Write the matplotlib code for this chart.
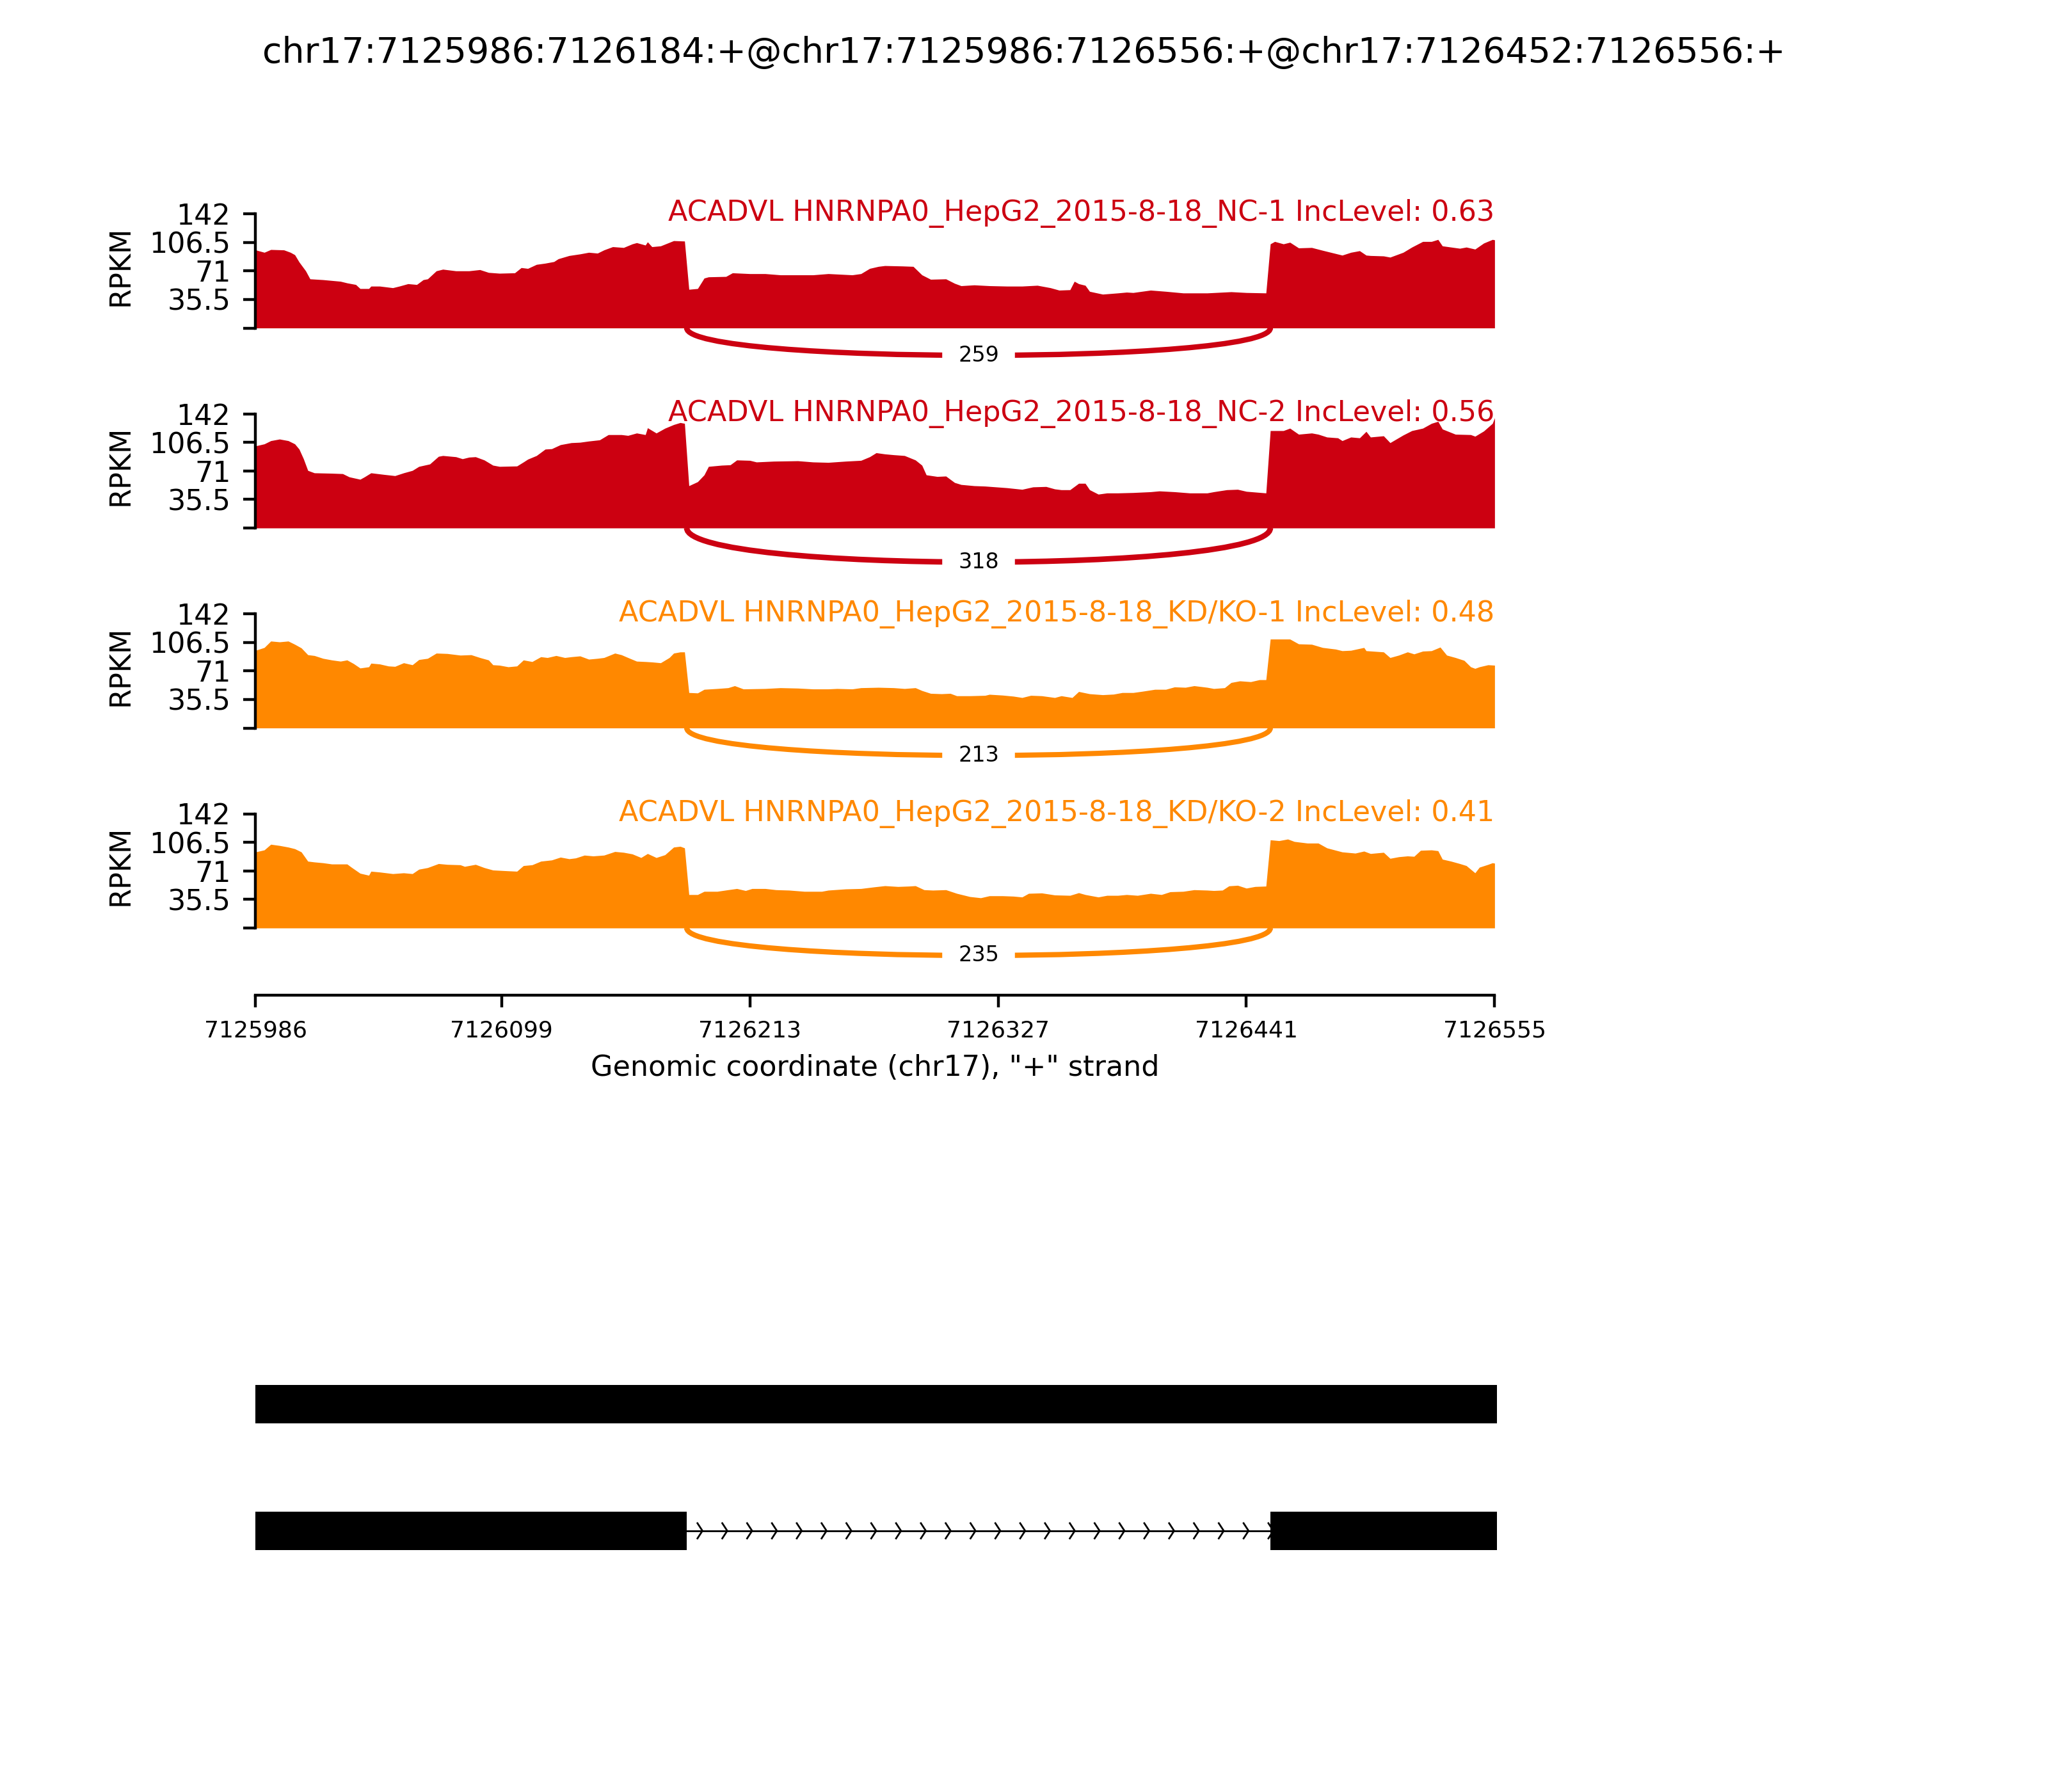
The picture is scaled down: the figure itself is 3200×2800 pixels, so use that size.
import numpy as np
import matplotlib
matplotlib.use("Agg")
import matplotlib.pyplot as plt
from matplotlib.path import Path
from matplotlib.patches import PathPatch

# event / region
event_title = "chr17:7125986:7126184:+@chr17:7125986:7126556:+@chr17:7126452:7126556:+"
gene = "ACADVL"
region_start = 7125986
region_end = 7126555
xlabel = 'Genomic coordinate (chr17), "+" strand'
xtick_values = [7125986, 7126099, 7126213, 7126327, 7126441, 7126555]
ymax = 142

samples = ["HNRNPA0_HepG2_2015-8-18_NC-1", "HNRNPA0_HepG2_2015-8-18_NC-2",
           "HNRNPA0_HepG2_2015-8-18_KD/KO-1", "HNRNPA0_HepG2_2015-8-18_KD/KO-2"]
inc_levels = [0.63, 0.56, 0.48, 0.41]
junction_counts = [259, 318, 213, 235]
junction = (7126184, 7126452)
colors = ["#CC0011", "#CC0011", "#FF8800", "#FF8800"]

# isoforms (exon start, exon end)
isoform_skip = [(7125986, 7126184), (7126452, 7126556)]
isoform_ri = [(7125986, 7126184), (7126184, 7126452), (7126452, 7126556)]

# coverage (RPKM), offsets in bp from region_start
nc1_off = [0, 4, 7, 13, 16, 18, 20, 23, 25, 31, 39, 42, 46, 48, 52, 53, 57, 63, 66, 70,
           74, 77, 79, 83, 86, 92, 98, 103, 107, 112, 119, 122, 125, 129, 133, 137, 139, 144, 149, 153,
           157, 160, 164, 169, 173, 175, 179, 180, 182, 186, 192, 197, 199, 203, 206, 208, 216, 219, 227, 234,
           241, 256, 263, 274, 278, 282, 286, 289, 297, 302, 306, 310, 317, 321, 324, 330, 337, 345, 352, 359,
           365, 369, 374, 376, 378, 381, 383, 389, 396, 400, 403, 411, 418, 426, 437, 448, 455, 464, 466, 468,
           472, 475, 479, 485, 490, 496, 499, 503, 507, 510, 512, 518, 521, 527, 531, 536, 540, 543, 545, 549,
           553, 556, 560, 564, 568, 569]
nc1_val = [97, 94, 97.5, 97, 94, 91, 82, 71, 61, 60, 58, 56, 54, 49, 49, 52, 52, 50, 52, 55,
           54, 60, 61, 71, 73, 71, 71, 72.5, 69, 68, 68.5, 75, 74, 79, 80.5, 82.5, 86, 90, 92, 94,
           93, 97, 101, 100, 104.5, 106, 103, 107, 101, 102, 108.5, 108, 48, 49, 62, 63.5, 64, 68.5, 67.5, 67.5,
           66, 66, 67.5, 66, 67.5, 74, 76.5, 77.5, 77, 76.5, 66, 60.5, 61, 55.5, 52.5, 53.5, 52.5, 52, 52, 53,
           50, 47, 47.5, 58, 55, 53, 45.5, 42, 43.5, 44.5, 44, 47, 45.5, 43.5, 43.5, 45, 44, 43.5, 104.5, 107.5,
           104.5, 106.5, 99.5, 100, 96.5, 92.5, 90.5, 94, 96, 90.5, 90, 89.5, 88, 94, 100.5, 107.5, 107.5, 110, 102, 100.5,
           99, 100.5, 98, 105.5, 110, 109.5]

nc2_off = [0, 4, 7, 11, 15, 18, 20, 22, 24, 27, 35, 40, 43, 48, 50, 53, 59, 64, 68, 72,
           75, 80, 84, 86, 92, 95, 98, 101, 105, 109, 112, 120, 123, 125, 129, 133, 136, 140, 145, 149,
           153, 158, 162, 168, 171, 175, 179, 180, 184, 188, 192, 195, 197, 199, 203, 206, 208, 214, 218, 221,
           227, 230, 238, 249, 256, 263, 271, 278, 282, 285, 289, 293, 298, 303, 306, 308, 313, 317, 321, 324,
           330, 335, 345, 352, 357, 363, 367, 370, 374, 378, 381, 383, 387, 391, 396, 403, 411, 415, 422, 429,
           437, 440, 446, 451, 455, 464, 466, 472, 475, 479, 485, 488, 492, 497, 499, 503, 507, 510, 512, 518,
           521, 527, 531, 536, 540, 543, 545, 551, 558, 560, 564, 568, 569]
nc2_val = [102, 104.5, 108.5, 110.5, 108.5, 104.5, 98, 86, 71.5, 68.5, 68, 67.5, 63.5, 60.5, 63.5, 68.5, 66.5, 65, 68.5, 71.5,
           76.5, 79.5, 89, 90, 88.5, 86, 88, 88.5, 84.5, 78, 76.5, 77, 82, 85.5, 90, 98, 98.5, 103.5, 106, 106.5,
           108, 109.5, 116, 116, 115, 118, 116, 124.5, 118, 124, 128.5, 131, 130, 52.5, 57.5, 66, 76.5, 78, 78.5, 84.5,
           84, 82, 83, 83.5, 82, 81.5, 83, 84, 88.5, 93.5, 92, 91, 90, 84.5, 78, 66, 64, 64.5, 56.5, 54,
           52.5, 52, 50, 48, 51, 51.5, 48.5, 47.5, 47.5, 55.5, 55.5, 47.5, 42, 43.5, 43.5, 44, 45, 46, 45, 43.5,
           43.5, 45, 47.5, 48, 45.5, 43.5, 121, 121, 124, 116.5, 118, 116.5, 113, 112, 108.5, 113, 112, 120, 113, 114.5,
           106, 115.5, 121, 124, 130, 132.5, 123, 116.5, 116, 114, 120.5, 130, 137]

kd1_off = [0, 4, 7, 11, 15, 18, 21, 24, 27, 31, 35, 39, 42, 45, 48, 52, 53, 57, 61, 64,
           68, 72, 75, 79, 83, 88, 94, 99, 103, 107, 109, 112, 116, 120, 123, 127, 131, 134, 138, 142,
           145, 149, 153, 157, 160, 165, 168, 171, 175, 179, 182, 186, 190, 192, 195, 197, 199, 203, 206, 212,
           217, 220, 224, 234, 241, 249, 256, 263, 267, 274, 278, 286, 293, 298, 303, 306, 310, 315, 319, 322,
           328, 335, 337, 343, 348, 352, 356, 361, 367, 370, 375, 378, 383, 389, 394, 398, 403, 407, 413, 418,
           422, 427, 431, 437, 440, 445, 448, 452, 457, 461, 464, 466, 470, 475, 479, 485, 490, 496, 499, 503,
           509, 510, 518, 521, 525, 529, 532, 536, 540, 544, 547, 551, 555, 558, 560, 562, 566, 569]
kd1_val = [96.5, 100, 108, 107, 108, 104, 99.5, 91, 90, 86.5, 84.5, 83, 84.5, 80, 74.5, 76, 80.5, 79.5, 77, 76.5,
           81, 78.5, 85, 86.5, 93, 92.5, 90.5, 91, 87.5, 84.5, 78.5, 78, 76, 77, 84.5, 82.5, 88.5, 87.5, 90, 87.5,
           88.5, 89.5, 85.5, 86.5, 87.5, 93, 91, 87.5, 83, 82.5, 82, 81, 87.5, 93, 94.5, 94.5, 44, 43.5, 48, 49,
           50, 52.5, 48.5, 49, 50, 49.5, 48.5, 48.5, 49, 48.5, 50, 50.5, 50, 49, 50, 46.5, 43, 42.5, 43, 40,
           40, 40.5, 41.8, 40.8, 39.5, 37.8, 40.5, 40, 37.8, 40, 37.8, 45.3, 42.5, 41.3, 42, 44, 44, 45.5, 48, 48,
           51, 50.5, 52.5, 50.5, 49, 50, 56.5, 58.5, 57.5, 60, 60, 110.5, 110.5, 110.5, 104.5, 104, 100, 98, 96, 96.5,
           100, 96, 94.5, 87.5, 90.5, 94.5, 92, 95.5, 96, 100.5, 90.5, 87.5, 84, 76, 74, 76, 78.5, 78]

kd2_off = [0, 4, 7, 11, 15, 18, 21, 24, 27, 31, 35, 42, 44, 48, 52, 53, 57, 63, 68, 72,
           75, 79, 84, 88, 94, 96, 101, 105, 109, 116, 120, 123, 127, 131, 136, 140, 144, 147, 151, 155,
           160, 165, 169, 173, 177, 180, 184, 188, 192, 195, 197, 199, 203, 206, 212, 217, 221, 225, 228, 234,
           239, 245, 252, 260, 263, 271, 278, 284, 289, 295, 300, 303, 307, 311, 317, 322, 328, 333, 337, 343,
           348, 352, 355, 361, 367, 374, 378, 381, 387, 391, 396, 400, 405, 411, 416, 420, 426, 431, 437, 440,
           444, 447, 451, 455, 459, 464, 466, 470, 474, 477, 483, 488, 492, 499, 505, 509, 512, 518, 521, 525,
           529, 532, 535, 540, 543, 545, 549, 553, 556, 560, 562, 566, 568, 569]
kd2_val = [94.5, 97, 104, 102.5, 100.5, 98.5, 94.5, 83, 82, 81, 79.5, 79.5, 75.5, 68, 65.5, 70.5, 69.5, 67.5, 68.5, 67.5,
           73, 75, 80, 79, 78.5, 76.5, 79, 75, 72, 71, 70.5, 77.5, 78.5, 83, 84.5, 88, 86, 87, 90.5, 89.5,
           90.5, 95, 94, 92, 87.5, 92.5, 87.5, 91, 100.5, 101.5, 99.5, 41.5, 41.5, 45.5, 45.5, 47.5, 49, 46.5, 49, 49,
           47.5, 47, 45.5, 45.5, 47, 48.5, 49, 51, 52.5, 51.5, 52, 52.5, 47.5, 47, 47.5, 43, 39, 37.5, 40, 40,
           39.5, 38.5, 43, 43.5, 41, 40.5, 43.8, 41.5, 38.5, 40.5, 40.5, 41.5, 40.5, 43, 41.5, 45, 45.5, 47.5, 47, 46.5,
           47, 52.3, 53, 49.5, 51.5, 52, 109.5, 108.5, 110.5, 107.5, 105.5, 105.5, 99.5, 94.5, 93, 95.5, 92.5, 94, 86.5, 88.5,
           89.5, 89, 96.5, 97, 96, 85.5, 83, 80, 77.5, 68.5, 75.5, 79, 81, 80.5]

coverage = [(nc1_off, nc1_val), (nc2_off, nc2_val), (kd1_off, kd1_val), (kd2_off, kd2_val)]

fig = plt.figure(figsize=(8, 7), dpi=400)
fig.suptitle(event_title, fontsize=10, y=0.98)

left, width = 0.1248, 0.605
track_h = 267.75 / 2800
yticks = np.linspace(0, ymax, 5)
ytick_labels = ["" if v == 0 else "%g" % v for v in yticks]

for i in range(4):
    top = 1 - (334 + 312.5 * i) / 2800
    ax = fig.add_axes([left, top - track_h, width, track_h])
    off, val = coverage[i]
    c = colors[i]
    x = region_start + np.array(off)
    ax.fill_between(x, val, 0, color=c, lw=0)
    ax.set_xlim(region_start, region_end)
    ax.set_ylim(-0.5 * ymax, ymax)
    for s in ["top", "right", "bottom"]:
        ax.spines[s].set_visible(False)
    ax.spines["left"].set_bounds(0, ymax)
    ax.set_yticks(yticks)
    ax.set_yticklabels(ytick_labels, fontsize=8)
    ax.set_xticks([])
    ax.text(-0.109, 0.697, "RPKM", rotation=90, fontsize=8, ha="center", va="center",
            transform=ax.transAxes)
    ax.text(region_end, ymax, f"{gene} {samples[i]} IncLevel: {inc_levels[i]}",
            fontsize=8, ha="right", va="center", color=c)

    # junction arc below the track
    count = junction_counts[i]
    h = 0.375 * 1.1 * max(val)
    ss1, ss2 = junction
    pts = [(ss1, 0), (ss1, -h), (ss2, -h), (ss2, 0)]
    arc = Path(pts, [Path.MOVETO, Path.CURVE4, Path.CURVE4, Path.CURVE4])
    ax.add_patch(PathPatch(arc, ec=c, fc="none", lw=np.log(count + 1) / np.log(40)))
    ax.text((ss1 + ss2) / 2, -0.75 * h, str(count), fontsize=6, ha="center", va="center",
            backgroundcolor="w")

    if i == 3:
        ax.spines["bottom"].set_visible(True)
        ax.spines["bottom"].set_position(("outward", 2.8))
        ax.set_xticks(xtick_values)
        ax.set_xticklabels([str(v) for v in xtick_values], fontsize=6.5)
        ax.set_xlabel(xlabel, fontsize=8, labelpad=3.5)

# gene structure
gax = fig.add_axes([left, 0.1104, width, 0.2121])
span = region_end - region_start + 1
narrows = 50
spread = 0.2 * span / narrows
for yloc, iso in enumerate([isoform_skip, isoform_ri]):
    for s, e in iso:
        gax.fill([s, e, e, s], [yloc - 0.15, yloc - 0.15, yloc + 0.15, yloc + 0.15],
                 "k", lw=0.5, zorder=20, clip_on=False)
    gax.plot([iso[0][0], iso[-1][1]], [yloc, yloc], color="k", lw=0.5)
    for j in range(narrows):
        loc = region_start + j * span / narrows
        gax.plot([loc - spread, loc, loc - spread], [yloc - 0.06, yloc, yloc + 0.06],
                 color="k", lw=0.5)
gax.set_xlim(region_start, region_end)
gax.set_ylim(-0.5, 2.5)
gax.axis("off")

fig.savefig("out.png", dpi=400)
